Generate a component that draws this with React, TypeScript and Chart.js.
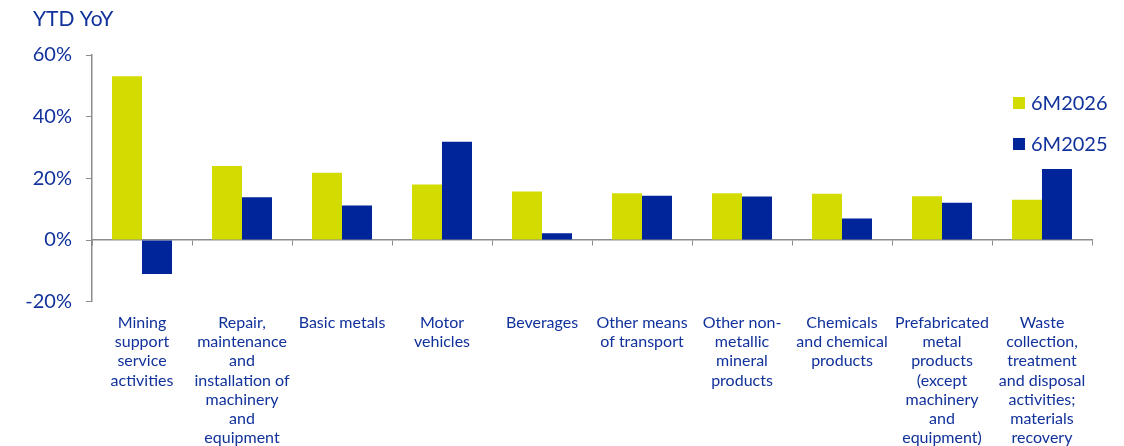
import React, { useEffect, useRef } from "react";
import { Chart, registerables } from "chart.js";

Chart.register(...registerables);

const categories: string[][] = [
  ["Mining", "support", "service", "activities"],
  ["Repair,", "maintenance", "and", "installation of", "machinery", "and", "equipment"],
  ["Basic metals"],
  ["Motor", "vehicles"],
  ["Beverages"],
  ["Other means", "of transport"],
  ["Other non-", "metallic", "mineral", "products"],
  ["Chemicals", "and chemical", "products"],
  ["Prefabricated", "metal", "products", "(except", "machinery", "and", "equipment)"],
  ["Waste", "collection,", "treatment", "and disposal", "activities;", "materials", "recovery"],
];

const series2026: number[] = [53.1, 24.0, 21.8, 18.0, 15.7, 15.2, 15.2, 15.0, 14.2, 13.1];
const series2025: number[] = [-11.0, 13.9, 11.2, 31.9, 2.2, 14.4, 14.1, 7.0, 12.1, 23.0];

const seriesLabels = ["6M2026", "6M2025"];
const yTicks: number[] = [-20, 0, 20, 40, 60];
const titleText = "YTD YoY";

const LIME = "#D2DC00";
const NAVY = "#00259A";
const TEXT = "#11319B";
const AXIS = "#8C8C8C";
const FONT = "Lato, 'Open Sans', sans-serif";

const decorPlugin = {
  id: "decor",
  afterDraw(chart: any) {
    const { ctx, chartArea } = chart;
    ctx.save();
    // title
    ctx.font = `21px ${FONT}`;
    ctx.textBaseline = "middle";
    ctx.textAlign = "left";
    ctx.fillStyle = TEXT;
    ctx.fillText(titleText, 33, 19);
    // legend
    const x0 = chartArea.right - 79;
    let y = chartArea.top + 48;
    ctx.font = `20px ${FONT}`;
    chart.data.datasets.forEach((ds: any) => {
      ctx.fillStyle = ds.backgroundColor;
      ctx.fillRect(x0, y - 6, 12, 12);
      ctx.fillStyle = TEXT;
      ctx.fillText(ds.label, x0 + 18, y + 1);
      y += 41;
    });
    ctx.restore();
  },
};

export default function App() {
  const ref = useRef<HTMLCanvasElement | null>(null);

  useEffect(() => {
    if (!ref.current) return;
    const chart = new Chart(ref.current, {
      type: "bar",
      data: {
        labels: categories,
        datasets: [
          {
            label: seriesLabels[0],
            data: series2026,
            backgroundColor: LIME,
            categoryPercentage: 0.6,
            barPercentage: 1.0,
          },
          {
            label: seriesLabels[1],
            data: series2025,
            backgroundColor: NAVY,
            categoryPercentage: 0.6,
            barPercentage: 1.0,
          },
        ],
      },
      options: {
        animation: false,
        responsive: false,
        maintainAspectRatio: false,
        layout: { padding: { left: 0, right: 32, top: 55, bottom: -5 } },
        plugins: {
          legend: { display: false },
          tooltip: { enabled: false },
          title: { display: false },
        },
        scales: {
          x: {
            type: "category",
            position: { y: 0 } as any,
            offset: true,
            grid: {
              display: true,
              offset: true,
              drawOnChartArea: false,
              drawTicks: true,
              tickLength: 5,
              color: AXIS,
            },
            border: { display: true, color: AXIS, width: 1.5 },
            ticks: { display: false },
          },
          x2: {
            type: "category",
            position: "bottom",
            offset: true,
            grid: { display: false },
            border: { display: false },
            ticks: {
              autoSkip: false,
              maxRotation: 0,
              minRotation: 0,
              padding: 4,
              color: TEXT,
              font: { family: FONT, size: 16, lineHeight: 1.19 },
            },
          },
          y: {
            min: -20,
            max: 60,
            afterFit(scale: any) {
              scale.width = 92;
            },
            afterBuildTicks(scale: any) {
              scale.ticks = yTicks.map((v) => ({ value: v }));
            },
            grid: {
              display: true,
              drawOnChartArea: false,
              drawTicks: true,
              tickLength: 6,
              color: AXIS,
            },
            border: { display: true, color: AXIS, width: 1.5 },
            ticks: {
              padding: 14,
              color: TEXT,
              font: { family: FONT, size: 20 },
              callback: (v: any) => `${v}%`,
            },
          },
        },
      },
      plugins: [decorPlugin],
    });
    return () => chart.destroy();
  }, []);

  return (
    <div style={{ position: "fixed", left: 0, top: 0, width: 1124, height: 446, background: "#fff" }}>
      <canvas ref={ref} width={1124} height={446} style={{ width: 1124, height: 446 }} />
    </div>
  );
}
